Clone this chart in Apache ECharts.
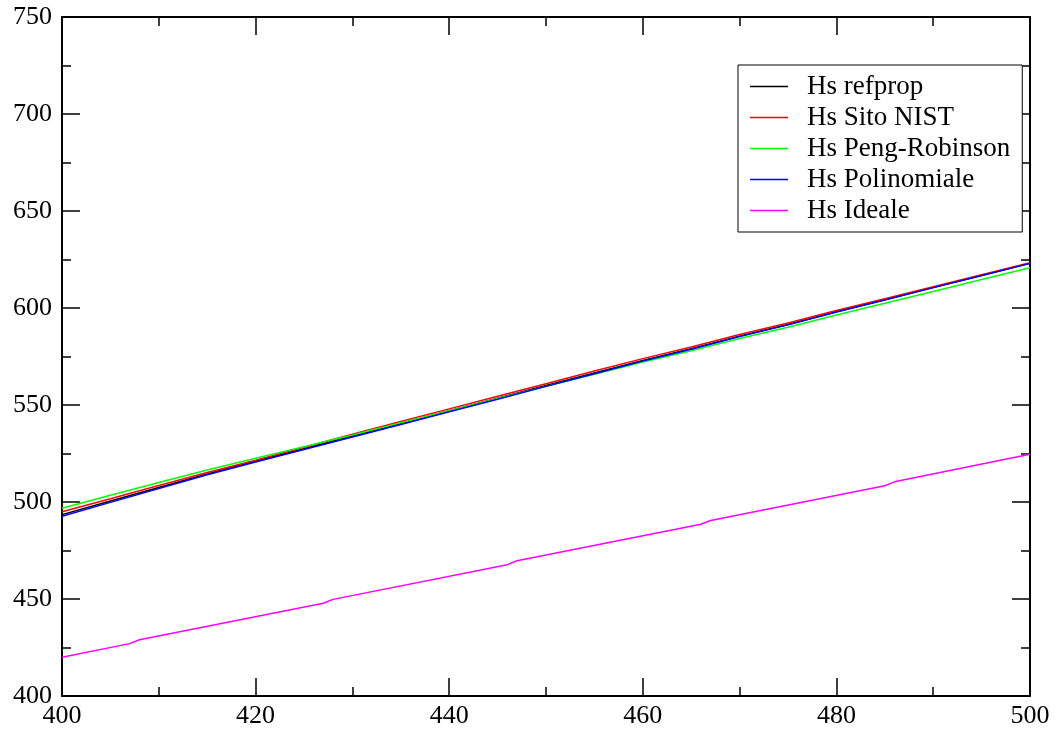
<!DOCTYPE html>
<html>
<head>
<meta charset="utf-8">
<script src="https://cdn.jsdelivr.net/npm/echarts@6/dist/echarts.min.js"></script>
<style>
  html, body { margin: 0; background: #fff; }
  #chart { width: 1057px; height: 729px; }
</style>
</head>
<body>
<div id="chart"></div>
<script>
// temperatures (K) and enthalpies
const temps = [400, 405, 410, 415, 420, 425, 430, 435, 440, 445, 450, 455, 460, 465, 470, 475, 480, 485, 490, 495, 500]
const hsRefprop = [493.5, 500.5, 507.5, 514.5, 521, 527.5, 534, 540.5, 547, 553.5, 560, 566.5, 573, 579, 585.5, 591.5, 598, 604.2, 610.5, 616.8, 623]
const hsNist = [495, 501.7, 508.5, 515.2, 521.5, 528.2, 534.9, 541.5, 548, 554.5, 561, 567.5, 573.9, 579.9, 586.3, 592.3, 598.7, 604.8, 611, 617.2, 623.3]
const hsPengRobinson = [496.8, 503.5, 510, 516.5, 522.5, 528.5, 534.5, 540.8, 547, 553.3, 559.6, 565.9, 572.2, 578, 584.3, 590.1, 596.4, 602.4, 608.5, 614.7, 620.8]
const hsPolinomiale = [492.7, 499.8, 506.9, 514, 520.6, 527.1, 533.5, 540, 546.5, 553, 559.6, 566.1, 572.7, 578.7, 585.3, 591.3, 597.9, 604.1, 610.5, 616.8, 623]

const idealTemps = [400, 407, 408, 427, 428, 446, 447, 466, 467, 485, 486, 500]
const hsIdeale = [420, 427, 429, 447.8, 449.8, 467.7, 469.7, 488.5, 490.5, 508.4, 510.4, 524.6]

const names = ['Hs refprop', 'Hs Sito NIST', 'Hs Peng-Robinson', 'Hs Polinomiale', 'Hs Ideale']
const colors = ['#000000', '#ff0000', '#00ff00', '#0000ff', '#ff00ff']

const font = "'Liberation Serif', 'Times New Roman', serif"
const pairs = (xs, ys) => xs.map((x, i) => [x, ys[i]])

const axisCommon = {
  type: 'value',
  axisLine: {show: true, lineStyle: {color: '#000', width: 2}},
  axisTick: {show: true, inside: true, length: 18, lineStyle: {color: '#000', width: 1.5}},
  minorTick: {show: true, splitNumber: 2, length: 9, lineStyle: {color: '#000', width: 1.5}},
  splitLine: {show: false},
  minorSplitLine: {show: false}
}

const xBase = {...axisCommon, min: 400, max: 500, interval: 20}
const yBase = {...axisCommon, min: 400, max: 750, interval: 50}

const seriesY = [hsRefprop, hsNist, hsPengRobinson, hsPolinomiale]

const chart = echarts.init(document.getElementById('chart'))
chart.setOption({
  animation: false,
  backgroundColor: '#fff',
  grid: {left: 62, right: 27, top: 17, bottom: 33},
  legend: {
    orient: 'vertical',
    left: 738,
    top: 65,
    data: names,
    icon: 'rect',
    backgroundColor: '#fff',
    borderColor: '#000',
    borderWidth: 1,
    padding: [8, 12, 8, 12],
    itemWidth: 38,
    itemHeight: 1.5,
    itemGap: 4,
    textStyle: {fontFamily: font, fontSize: 27, lineHeight: 27, color: '#000', padding: [0, 0, 0, 14]}
  },
  xAxis: [
    {...xBase, position: 'bottom',
      axisLabel: {fontFamily: font, fontSize: 26, color: '#000', margin: 7}},
    {...xBase, position: 'top', axisLabel: {show: false}}
  ],
  yAxis: [
    {...yBase, position: 'left',
      axisLabel: {fontFamily: font, fontSize: 26, color: '#000', margin: 10}},
    {...yBase, position: 'right', axisLabel: {show: false}}
  ],
  series: [
    ...seriesY.map((ys, i) => ({
      type: 'line',
      name: names[i],
      data: pairs(temps, ys),
      symbol: 'none',
      color: colors[i],
      lineStyle: {width: 1.5, color: colors[i]}
    })),
    {
      type: 'line',
      name: names[4],
      data: pairs(idealTemps, hsIdeale),
      symbol: 'none',
      color: colors[4],
      lineStyle: {width: 1.5, color: colors[4]}
    }
  ]
})
</script>
</body>
</html>
